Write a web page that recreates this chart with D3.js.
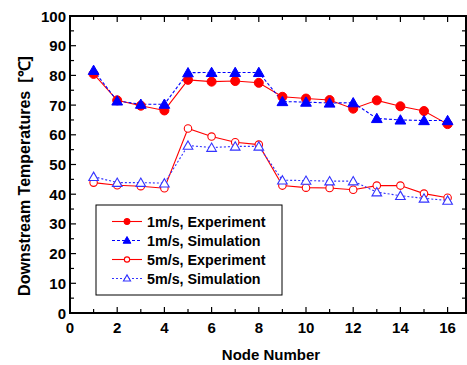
<!DOCTYPE html>
<html><head><meta charset="utf-8">
<script src="https://cdn.jsdelivr.net/npm/d3@7"></script>
<style>body{margin:0;background:#fff}svg{display:block}</style>
</head><body>
<script>
const nodes = [1,2,3,4,5,6,7,8,9,10,11,12,13,14,15,16];
const exp1 = [80.5,71.6,69.8,68.2,78.5,77.9,78.1,77.5,72.8,72.2,71.7,68.8,71.6,69.6,68.0,63.6];
const sim1 = [81.7,71.4,70.3,70.3,80.9,81.0,81.0,81.0,71.2,71.0,70.7,70.8,65.5,65.0,64.8,64.8];
const exp5 = [43.9,43.0,42.7,42.0,62.1,59.4,57.5,56.7,42.9,42.2,42.1,41.5,42.9,42.9,40.2,38.8];
const sim5 = [45.9,43.9,43.9,43.7,56.4,55.7,56.1,56.1,44.7,44.6,44.4,44.4,40.7,39.5,38.6,37.9];
const xTicks = [0,2,4,6,8,10,12,14,16];
const yTicks = [0,10,20,30,40,50,60,70,80,90,100];
const legendLabels = ["1m/s, Experiment","1m/s, Simulation","5m/s, Experiment","5m/s, Simulation"];

const W = 467, H = 365;
const L = 70, T = 16, B = 313, R = 466;
const svg = d3.select("body").append("svg").attr("width", W).attr("height", H)
  .style("font-family", "'Liberation Sans', Arial, sans-serif").style("font-weight", "bold");

const x = d3.scaleLinear().domain([0, (R - L) / 23.6]).range([L, R]);
const y = d3.scaleLinear().domain([0, 100]).range([B, T]);

// ticks (inward)
const g = svg.append("g").attr("stroke", "#000").attr("stroke-width", 1.2);
d3.range(0, 17).forEach(v => {
  const len = v % 2 === 0 ? 6 : 4;
  g.append("line").attr("x1", x(v)).attr("x2", x(v)).attr("y1", B).attr("y2", B - len);
  g.append("line").attr("x1", x(v)).attr("x2", x(v)).attr("y1", T).attr("y2", T + len);
});
d3.range(0, 101, 5).forEach(v => {
  const len = v % 10 === 0 ? 6 : 4;
  g.append("line").attr("x1", L).attr("x2", L + len).attr("y1", y(v)).attr("y2", y(v));
  g.append("line").attr("x1", R).attr("x2", R - len).attr("y1", y(v)).attr("y2", y(v));
});
svg.append("rect").attr("x", L).attr("y", T).attr("width", R - L).attr("height", B - T)
  .attr("fill", "none").attr("stroke", "#000").attr("stroke-width", 2);

// tick labels
svg.append("g").selectAll("text").data(xTicks).join("text")
  .attr("x", d => x(d)).attr("y", 333).attr("text-anchor", "middle")
  .attr("font-size", 15).text(d => d);
svg.append("g").selectAll("text").data(yTicks).join("text")
  .attr("x", 66).attr("y", d => y(d) + 5.5).attr("text-anchor", "end")
  .attr("font-size", 15).text(d => d);

svg.append("text").attr("x", 271).attr("y", 360).attr("text-anchor", "middle")
  .attr("font-size", 15).text("Node Number");
const yl = svg.append("text").attr("transform", "translate(30,176) rotate(-90)").attr("text-anchor", "middle")
  .attr("font-size", 16);
yl.append("tspan").text("Downstream Temperatures");
yl.append("tspan").attr("dx", 8).text("[℃]");

const series = [
  {vals: exp1, color: "#ff0000", dash: null, marker: "circle", fill: true},
  {vals: sim1, color: "#0000ff", dash: "3,2", marker: "triangle", fill: true},
  {vals: exp5, color: "#ff0000", dash: null, marker: "circle", fill: false},
  {vals: sim5, color: "#3333ff", dash: "2,2", marker: "triangle", fill: false}
];
const line = d3.line().x((d, i) => x(nodes[i])).y(d => y(d));
const circ = d3.symbol().type(d3.symbolCircle);
const tri = d3.symbol().type(d3.symbolTriangle);

function marker(sel, s, size) {
  const sym = s.marker === "circle" ? circ.size(size.c) : tri.size(size.t);
  return sel.attr("d", sym())
    .attr("fill", s.fill ? s.color : "#fff")
    .attr("stroke", s.color).attr("stroke-width", s.fill ? 1 : 1.1);
}

series.forEach(s => {
  svg.append("path").datum(s.vals).attr("d", line).attr("fill", "none")
    .attr("stroke", s.color).attr("stroke-width", 1.1)
    .attr("stroke-dasharray", s.dash);
});
series.forEach(s => {
  const offs = s.marker === "triangle" ? 1 : 0;
  svg.append("g").selectAll("path").data(s.vals).join("path")
    .attr("transform", (d, i) => `translate(${x(nodes[i])},${y(d) + offs})`)
    .call(sel => marker(sel, s, s.fill ? {c: 64, t: 50} : {c: 44, t: 40}));
});

// legend
svg.append("rect").attr("x", 96).attr("y", 205).attr("width", 186).attr("height", 90)
  .attr("fill", "#fff").attr("stroke", "#000").attr("stroke-width", 1);
const ly = [221.5, 240.5, 259.5, 278.5];
series.forEach((s, i) => {
  svg.append("line").attr("x1", 112).attr("x2", 142).attr("y1", ly[i]).attr("y2", ly[i])
    .attr("stroke", s.color).attr("stroke-width", 1.1).attr("stroke-dasharray", s.dash);
  svg.append("path").attr("transform", `translate(127,${ly[i] + (s.marker === "triangle" ? 0.5 : 0)})`)
    .call(sel => marker(sel, s, s.fill ? {c: 30, t: 26} : {c: 22, t: 22}));
  svg.append("text").attr("x", 147).attr("y", ly[i] + 5.5).attr("font-size", 14.3).text(legendLabels[i]);
});
</script>
</body></html>
